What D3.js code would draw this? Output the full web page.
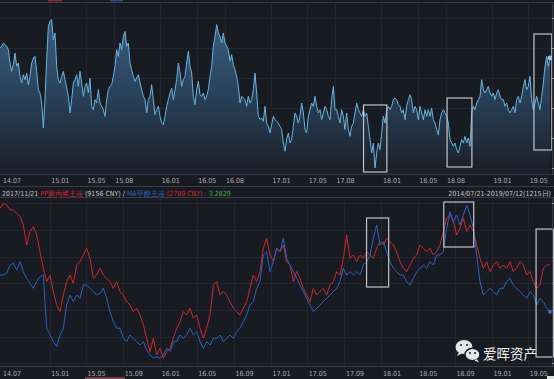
<!DOCTYPE html>
<html><head><meta charset="utf-8">
<script src="https://cdn.jsdelivr.net/npm/d3@7"></script>
<style>html,body{margin:0;padding:0;background:#191b22;overflow:hidden}</style>
</head><body><svg id="c" width="554" height="379"></svg>
<script>
// ---------- DATA ----------
const startDate = "2014-07-21";
const endDate = "2019-07-12";
// top panel: price ratio PP / MA (evenly spaced through the period)
const ratioValues = [
4.01,4.02,4.04,4.03,4.02,4.00,3.92,3.87,3.91,3.98,
3.90,3.92,3.84,3.80,3.85,3.82,3.86,3.79,3.84,3.92,
3.95,3.96,3.87,3.76,3.74,3.68,3.53,3.70,3.94,4.14,
4.17,4.18,4.06,4.10,3.90,3.82,3.80,3.84,3.87,3.82,
3.77,3.72,3.62,3.70,3.80,3.82,3.85,3.78,3.87,3.80,
3.72,3.78,3.80,3.74,3.83,3.66,3.64,3.70,3.68,3.76,
3.68,3.66,3.64,3.60,3.70,3.76,3.78,3.79,3.84,3.90,
4.00,3.96,4.04,4.00,4.08,4.11,4.02,4.04,3.92,3.88,
3.84,3.81,3.83,3.85,3.80,3.76,3.72,3.70,3.62,3.70,
3.72,3.79,3.70,3.61,3.64,3.66,3.60,3.56,3.55,3.60,
3.66,3.70,3.74,3.77,3.70,3.76,3.82,3.92,3.86,3.78,
3.82,3.84,3.92,3.99,3.90,3.86,3.72,3.67,3.76,3.81,
3.73,3.72,3.74,3.70,3.72,3.76,3.84,3.90,4.02,4.08,
4.15,4.10,4.08,4.04,4.10,4.04,4.02,4.00,3.93,3.97,
3.91,3.88,3.84,3.78,3.68,3.72,3.71,3.70,3.66,3.72,
3.68,3.70,3.76,3.86,3.74,3.60,3.58,3.59,3.57,3.66,
3.56,3.54,3.50,3.55,3.60,
3.58,3.57,3.56,3.54,3.52,3.44,3.39,3.46,3.50,3.44,
3.46,3.54,3.62,3.60,3.56,3.60,3.68,3.62,3.52,3.50,
3.60,3.64,3.68,3.66,3.72,3.66,3.62,3.64,3.58,3.62,
3.66,3.64,3.60,3.58,3.70,3.78,3.64,3.64,3.60,3.56,
3.64,3.60,3.52,3.62,3.52,3.48,3.54,3.56,3.62,3.68,
3.64,3.62,3.60,3.64,3.60,3.62,3.54,3.46,3.38,3.44,
3.29,3.38,3.44,3.40,3.50,3.60,3.56,3.64,3.66,3.64,
3.66,3.70,3.71,3.70,3.67,3.66,3.62,3.64,3.58,3.66,
3.70,3.73,3.70,3.62,3.66,3.64,3.58,3.66,3.62,3.58,
3.64,3.60,3.64,3.60,3.65,3.58,3.56,3.52,3.49,3.58,
3.62,3.64,3.62,3.60,3.56,3.46,3.44,3.42,3.44,3.40,
3.38,3.42,3.46,3.44,3.48,3.44,3.47,3.42,3.62,3.66,
3.64,3.68,3.70,3.72,3.82,3.76,3.74,3.76,3.78,3.74,
3.72,3.74,3.70,3.74,3.76,3.72,3.70,3.70,3.66,3.68,
3.64,3.62,3.64,3.66,3.62,3.70,3.72,3.68,3.72,3.78,
3.82,3.76,3.78,3.84,3.70,3.64,3.68,3.72,3.68,3.64,
3.72,3.80,3.90,3.96,3.90,3.95
];
// bottom panel: PP price (CNY, left scale)
const ppiValues = [
10359,10500,10453,10313,10313,10219,10125,9891,9328,9703,
9844,9609,9141,8672,8297,8484,8016,7641,7453,7922,
8297,8484,8250,8766,8859,9047,9234,8953,8391,8484,
8672,8484,8391,8297,8109,8297,8016,7922,7734,7641,
7453,7547,7359,7078,6703,6328,6703,6234,6422,6141,
6328,6422,6703,6984,7172,7453,7359,7547,7266,7359,
6984,6703,6984,7359,8203,8297,7922,8016,7922,7734,
7547,7453,7359,7547,7734,8109,8484,8297,8578,9234,
9516,9047,8859,
9234,9141,9328,8859,8766,8297,8578,8391,8109,7922,
7734,8109,7922,8016,8109,7922,8203,8297,8578,8484,
8953,9609,8953,9047,8859,9047,8953,9141,9047,8953,
9234,9422,9328,9516,9422,9328,9141,8859,8672,8578,
8766,8953,9047,9328,9234,9141,9234,9047,9141,9328,
9703,10078,10172,9984,9609,9797,10078,9703,9891,9703,
9328,8953,8672,8859,8578,8766,8859,8672,8766,8672,
8859,8578,8672,8859,8766,8484,8578,8297,8109,8203,
8672,8766,8766
];
// bottom panel: MA price (CNY, right scale)
const maValues = [
2594,2594,2612,2706,2725,2650,2744,2631,2556,2500,
2444,2519,2575,2594,1994,1919,1844,1788,1919,1994,
2256,2369,2294,2369,2331,2481,2481,2444,2406,2369,
2388,2444,2331,2181,2069,1994,1994,1881,1844,1919,
1881,1844,1806,1844,1750,1694,1656,1675,1656,1694,
1769,1731,1844,1844,1919,1881,1919,1994,1919,1956,
1844,1769,1844,1806,1881,1881,1919,1844,1881,1919,
1881,1956,1994,2069,2144,2256,2294,2444,2519,2819,
2856,2631,2744,
2894,2856,3006,2781,2706,2631,2556,2481,2406,2331,
2256,2181,2219,2256,2294,2331,2369,2406,2444,2519,
2669,2594,2631,2594,2631,2594,2706,2744,2819,3006,
3156,2931,2969,2856,2744,2669,2631,2594,2594,2519,
2481,2556,2631,2669,2706,2669,2744,2706,2819,2819,
2856,3119,3306,3194,3269,3156,3269,3381,3269,3119,
2819,2519,2369,2406,2444,2406,2369,2444,2444,2519,
2556,2481,2444,2406,2369,2331,2406,2369,2256,2331,
2294,2219,2181
];
const topTicks = ["2014-07-21","2015-01-01","2015-05-01","2015-08-01","2016-01-01","2016-05-01","2016-08-01","2017-01-01","2017-05-01","2017-08-01","2018-01-01","2018-05-01","2018-08-01","2019-01-01","2019-05-01"];
const bottomTicks = ["2014-07-21","2015-01-01","2015-05-01","2015-09-01","2016-01-01","2016-05-01","2016-09-01","2017-01-01","2017-05-01","2017-09-01","2018-01-01","2018-05-01","2018-09-01","2019-01-01","2019-05-01"];
const ratioGrid = [3.29,3.47,3.65,3.83,4.01,4.19];
const ppiGrid = [6000,6750,7500,8250,9000,9750,10500];
const maGrid = [1600,1900,2200,2500,2800,3100,3400];
const legendParts = [
  {t:"2017/11/21 ", c:"#c9c9c9"},
  {t:"PP聚丙烯主连", c:"#d8262b"},
  {t:" (9156 CNY) / ", c:"#c9c9c9"},
  {t:"MA甲醇主连", c:"#2b63c8"},
  {t:" (2789 CNY)", c:"#d8262b"},
  {t:" : 3.2829", c:"#39b54a"}
];
const rangeLabel = "2014/07/21-2019/07/12(1215日)";
const watermark = "爱晖资产";
const boxesTop = [
  {from:"2017-11-03", to:"2018-01-19", lo:3.266, hi:3.668},
  {from:"2018-08-06", to:"2018-10-27", lo:3.296, hi:3.710},
  {from:"2019-05-20", to:"2019-07-18", lo:3.398, hi:4.094}
];
const boxesBottom = [
  {from:"2017-11-13", to:"2018-01-25", lo:8146, hi:10087},
  {from:"2018-07-26", to:"2018-11-02", lo:9271, hi:10537},
  {from:"2019-05-27", to:"2019-07-24", lo:6177, hi:9777}
];

// ---------- DRAW ----------
const parse = d3.timeParse("%Y-%m-%d");
const fmt = d3.timeFormat("%y.%m");
const t0 = parse(startDate), t1 = parse(endDate);
const svg = d3.select("#c");
const W = 554, H = 379;
const FONT = "'Liberation Sans Narrow','DejaVu Sans Condensed',Arial,sans-serif";
const gridC = "#22252d", axisC = "#3a3d47", lblC = "#a9abb1";

svg.append("rect").attr("width",W).attr("height",H).attr("fill","#191b22");

const x = d3.scaleTime().domain([t0,t1]).range([0,550]);
const yTop = d3.scaleLinear().domain([3.29,4.19]).range([168,18]);
const yRed = d3.scaleLinear().domain([6000,10500]).range([363.3,203.3]);
const yBlue = d3.scaleLinear().domain([1600,3400]).range([363.3,203.3]);

function spread(vals){
  const n = vals.length;
  return vals.map((v,i)=>({d:new Date(+t0 + i*(t1-t0)/(n-1)), v}));
}
const topData = spread(ratioValues);
const redData = spread(ppiValues);
const blueData = spread(maValues);

// cut-off items above the chart
svg.append("rect").attr("x",48).attr("y",0).attr("width",14).attr("height",1.5).attr("fill","#8c2b31");
svg.append("rect").attr("x",110).attr("y",0).attr("width",13).attr("height",1.5).attr("fill","#2d4d86");

// ===== top panel =====
const gT = svg.append("g");
gT.selectAll("line.h").data(ratioGrid).join("line")
  .attr("x1",0).attr("x2",552).attr("y1",d=>Math.round(yTop(d))+0.5).attr("y2",d=>Math.round(yTop(d))+0.5)
  .attr("stroke",gridC).attr("stroke-width",1);
gT.selectAll("line.v").data(topTicks.slice(1)).join("line")
  .attr("x1",d=>Math.round(x(parse(d)))+0.5).attr("x2",d=>Math.round(x(parse(d)))+0.5)
  .attr("y1",3).attr("y2",174).attr("stroke",gridC).attr("stroke-width",1);

const defs = svg.append("defs");
const grad = defs.append("linearGradient").attr("id","ag").attr("gradientUnits","userSpaceOnUse")
  .attr("x1",0).attr("y1",18).attr("x2",0).attr("y2",174);
grad.append("stop").attr("offset",0).attr("stop-color","#3a5f82");
grad.append("stop").attr("offset",0.45).attr("stop-color","#2a445e");
grad.append("stop").attr("offset",1).attr("stop-color","#1b1f28");

gT.append("path").datum(topData)
  .attr("d", d3.area().x(d=>x(d.d)).y0(174).y1(d=>yTop(d.v)))
  .attr("fill","url(#ag)");
gT.append("path").datum(topData)
  .attr("d", d3.line().x(d=>x(d.d)).y(d=>yTop(d.v)))
  .attr("fill","none").attr("stroke","#68b3de").attr("stroke-width",1);
const lastT = topData[topData.length-1];
gT.append("circle").attr("cx",x(lastT.d)).attr("cy",yTop(lastT.v)).attr("r",2.4).attr("fill","#8cc8ec");

gT.selectAll("rect.box").data(boxesTop).join("rect")
  .attr("x",d=>x(parse(d.from))).attr("y",d=>yTop(d.hi))
  .attr("width",d=>x(parse(d.to))-x(parse(d.from))).attr("height",d=>yTop(d.lo)-yTop(d.hi))
  .attr("fill","none").attr("stroke","#c4c4c4").attr("stroke-width",1.2);

// frame / right axis
svg.append("line").attr("x1",0).attr("x2",554).attr("y1",2.5).attr("y2",2.5).attr("stroke",axisC);
svg.append("line").attr("x1",552.5).attr("x2",552.5).attr("y1",2.5).attr("y2",174.5).attr("stroke",axisC);
svg.selectAll("line.rtT").data(ratioGrid).join("line")
  .attr("x1",552).attr("x2",554).attr("y1",d=>Math.round(yTop(d))+0.5).attr("y2",d=>Math.round(yTop(d))+0.5)
  .attr("stroke","#8a8c93");
svg.append("line").attr("x1",0).attr("x2",554).attr("y1",174.5).attr("y2",174.5).attr("stroke",axisC);

svg.selectAll("text.tt").data(topTicks).join("text")
  .attr("x",(d,i)=>x(parse(d))+(i===0?3:1.5)).attr("y",183)
  .attr("font-family",FONT).attr("font-size",7).attr("fill",lblC).text(d=>fmt(parse(d)));

// legend row
svg.append("line").attr("x1",0).attr("x2",554).attr("y1",186.5).attr("y2",186.5).attr("stroke",axisC);
const lg = svg.append("text").attr("x",2).attr("y",195.5).attr("font-family",FONT).attr("font-size",7);
lg.selectAll("tspan").data(legendParts).join("tspan").attr("fill",d=>d.c).text(d=>d.t);
svg.append("text").attr("x",551).attr("y",195.5).attr("text-anchor","end")
  .attr("font-family",FONT).attr("font-size",7).attr("fill","#c9c9c9").text(rangeLabel);

// ===== bottom panel =====
svg.append("line").attr("x1",0).attr("x2",554).attr("y1",197.5).attr("y2",197.5).attr("stroke",axisC);
const gB = svg.append("g");
gB.selectAll("line.h").data(ppiGrid).join("line")
  .attr("x1",0).attr("x2",552).attr("y1",d=>Math.round(yRed(d))+0.5).attr("y2",d=>Math.round(yRed(d))+0.5)
  .attr("stroke",gridC);
gB.selectAll("line.v").data(bottomTicks.slice(1)).join("line")
  .attr("x1",d=>Math.round(x(parse(d)))+0.5).attr("x2",d=>Math.round(x(parse(d)))+0.5)
  .attr("y1",198).attr("y2",366).attr("stroke",gridC);

gB.append("path").datum(redData)
  .attr("d", d3.line().x(d=>x(d.d)).y(d=>yRed(d.v)))
  .attr("fill","none").attr("stroke","#cc2a2e").attr("stroke-width",1);
gB.append("path").datum(blueData)
  .attr("d", d3.line().x(d=>x(d.d)).y(d=>yBlue(d.v)))
  .attr("fill","none").attr("stroke","#2c62c4").attr("stroke-width",1);
const lastB = blueData[blueData.length-1];
gB.append("circle").attr("cx",x(lastB.d)).attr("cy",yBlue(lastB.v)).attr("r",2).attr("fill","#3d73d0");

gB.selectAll("rect.box").data(boxesBottom).join("rect")
  .attr("x",d=>x(parse(d.from))).attr("y",d=>yRed(d.hi))
  .attr("width",d=>x(parse(d.to))-x(parse(d.from))).attr("height",d=>yRed(d.lo)-yRed(d.hi))
  .attr("fill","none").attr("stroke","#c4c4c4").attr("stroke-width",1.2);

svg.append("line").attr("x1",552.5).attr("x2",552.5).attr("y1",197.5).attr("y2",366.5).attr("stroke",axisC);
svg.selectAll("line.rtB").data(ppiGrid).join("line")
  .attr("x1",552).attr("x2",554).attr("y1",d=>Math.round(yRed(d))+0.5).attr("y2",d=>Math.round(yRed(d))+0.5)
  .attr("stroke","#8a8c93");
svg.append("line").attr("x1",0).attr("x2",554).attr("y1",366.5).attr("y2",366.5).attr("stroke",axisC);
svg.selectAll("text.bt").data(bottomTicks).join("text")
  .attr("x",(d,i)=>x(parse(d))+(i===0?3:1.5)).attr("y",375.5)
  .attr("font-family",FONT).attr("font-size",7).attr("fill",lblC).text(d=>fmt(parse(d)));

// watermark (WeChat-like icon + name)
const wm = svg.append("g");
wm.append("ellipse").attr("cx",464).attr("cy",347).attr("rx",8.5).attr("ry",7).attr("fill","#e6e6e6");
wm.append("path").attr("d","M459,352 l-2,4 l5,-2.5 z").attr("fill","#e6e6e6");
wm.append("ellipse").attr("cx",472.5).attr("cy",354.5).attr("rx",7.5).attr("ry",6.2).attr("fill","#e6e6e6")
  .attr("stroke","#191b22").attr("stroke-width",1.4);
wm.append("path").attr("d","M477,359 l2,3.5 l-4.5,-2 z").attr("fill","#e6e6e6");
[[461,345],[467,345],[470,353],[475,353]].forEach(p=>
  wm.append("circle").attr("cx",p[0]).attr("cy",p[1]).attr("r",1).attr("fill","#191b22"));
wm.append("text").attr("x",483).attr("y",359).attr("font-family","'Noto Sans CJK SC',sans-serif")
  .attr("font-size",13.5).attr("fill","#f2f2f2").text(watermark);

// bottom scrollbar remnants
svg.append("rect").attr("x",85).attr("y",377).attr("width",40).attr("height",2).attr("fill","#7a4052");
svg.append("rect").attr("x",547).attr("y",376).attr("width",7).attr("height",3).attr("fill","#e0e0e0");
</script>
</body></html>
